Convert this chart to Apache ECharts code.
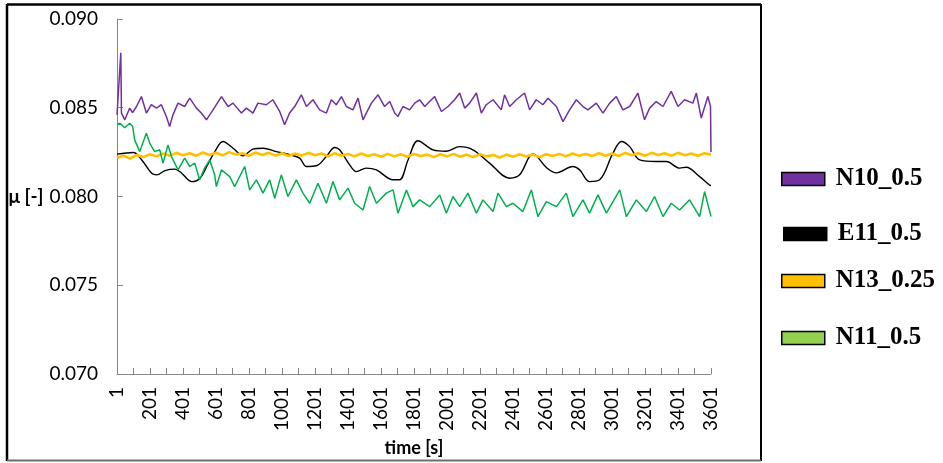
<!DOCTYPE html>
<html>
<head>
<meta charset="utf-8">
<script src="https://cdn.jsdelivr.net/npm/echarts@6/dist/echarts.min.js"></script>
<style>
  html, body { margin: 0; padding: 0; background: #fff; }
  #chart { width: 943px; height: 463px; }
</style>
</head>
<body>
<div id="chart"></div>
<script>
// Friction coefficient μ over a one-hour test, four specimens.
const seriesNames = ['N10_0.5', 'E11_0.5', 'N13_0.25', 'N11_0.5'];

// Axis tick positions and labels (time in s)
const xTickLabels = [1, 201, 401, 601, 801, 1001, 1201, 1401, 1601, 1801, 2001,
  2201, 2401, 2601, 2801, 3001, 3201, 3401, 3601];
const xTicks = [1, 101, 201, 301, 401, 501, 601, 701, 801, 901, 1001, 1101, 1201,
  1301, 1401, 1501, 1601, 1701, 1801, 1901, 2001, 2101, 2201, 2301, 2401, 2501,
  2601, 2701, 2801, 2901, 3001, 3101, 3201, 3301, 3401, 3501, 3601];

// N10_0.5
const n10Time = [1, 24, 28, 48, 78, 96, 119, 149, 179, 209,
  240, 270, 300, 320, 340, 371, 411, 442, 482, 512,
  543, 583, 634, 674, 704, 755, 785, 825, 855, 906,
  946, 987, 1017, 1047, 1078, 1118, 1149, 1189, 1229, 1270,
  1300, 1330, 1361, 1391, 1431, 1462, 1492, 1512, 1543, 1583,
  1623, 1654, 1684, 1704, 1734, 1775, 1805, 1835, 1866, 1896,
  1926, 1967, 2007, 2047, 2078, 2108, 2138, 2179, 2209, 2239,
  2280, 2330, 2350, 2381, 2421, 2471, 2502, 2542, 2582, 2613,
  2664, 2704, 2744, 2785, 2825, 2855, 2906, 2946, 2987, 3027,
  3067, 3108, 3158, 3198, 3229, 3269, 3310, 3360, 3401, 3441,
  3491, 3512, 3542, 3582, 3598, 3601];
const n10Mu = [0.0846, 0.0881, 0.0847, 0.08432, 0.08498, 0.08472, 0.08507, 0.08563, 0.08470, 0.08517,
  0.08498, 0.08517, 0.08451, 0.08394, 0.08460, 0.08526, 0.08507, 0.08554, 0.08498, 0.08470,
  0.08432, 0.08488, 0.08563, 0.08507, 0.08526, 0.08470, 0.08498, 0.08470, 0.08526, 0.08517,
  0.08545, 0.08479, 0.08404, 0.08470, 0.08507, 0.08573, 0.08507, 0.08545, 0.08488, 0.08470,
  0.08545, 0.08517, 0.08563, 0.08507, 0.08488, 0.08554, 0.08432, 0.08470, 0.08526, 0.08573,
  0.08507, 0.08535, 0.08470, 0.08451, 0.08507, 0.08488, 0.08526, 0.08545, 0.08507, 0.08535,
  0.08563, 0.08479, 0.08507, 0.08545, 0.08583, 0.08498, 0.08526, 0.08583, 0.08470, 0.08517,
  0.08545, 0.08488, 0.08573, 0.08507, 0.08545, 0.08583, 0.08488, 0.08545, 0.08517, 0.08554,
  0.08507, 0.08422, 0.08488, 0.08545, 0.08507, 0.08488, 0.08526, 0.08470, 0.08526, 0.08563,
  0.08488, 0.08507, 0.08583, 0.08432, 0.08498, 0.08535, 0.08507, 0.08592, 0.08507, 0.08545,
  0.08526, 0.08583, 0.08442, 0.08563, 0.08507, 0.0825];

// E11_0.5
const e11Time = [1, 100, 151, 211, 242, 292, 353, 393, 454, 504,
  555, 593, 643, 704, 765, 825, 886, 967, 1048, 1108,
  1149, 1209, 1270, 1320, 1350, 1411, 1452, 1512, 1573, 1674,
  1714, 1765, 1825, 1916, 1997, 2078, 2158, 2259, 2380, 2441,
  2522, 2606, 2664, 2764, 2805, 2865, 2926, 3007, 3058, 3108,
  3169, 3270, 3330, 3411, 3451, 3532, 3592, 3601];
const e11Mu = [0.08239, 0.08248, 0.08206, 0.08131, 0.08122, 0.08146, 0.08154, 0.08131, 0.08084, 0.08103,
  0.08188, 0.08252, 0.08310, 0.08272, 0.08229, 0.08267, 0.08272, 0.08253, 0.08235, 0.08216,
  0.08169, 0.08173, 0.08225, 0.08276, 0.08263, 0.08178, 0.08140, 0.08160, 0.08150, 0.08094,
  0.08094, 0.08206, 0.08314, 0.08263, 0.08255, 0.08281, 0.08263, 0.08188, 0.08103, 0.08122,
  0.08240, 0.08161, 0.08133, 0.08169, 0.08150, 0.08084, 0.08094, 0.08244, 0.08310, 0.08281,
  0.08206, 0.08197, 0.08197, 0.08160, 0.08165, 0.08112, 0.08065, 0.08062];

// N13_0.25, sampled every 40 s from t = 1
const n13Step = 40;
const n13Mu = [0.08218, 0.08230, 0.08214, 0.08234, 0.08222, 0.08238, 0.08226, 0.08242, 0.08230, 0.08246,
  0.08232, 0.08244, 0.08230, 0.08248, 0.08234, 0.08246, 0.08232, 0.08250, 0.08236, 0.08244,
  0.08230, 0.08248, 0.08234, 0.08246, 0.08230, 0.08244, 0.08228, 0.08242, 0.08230, 0.08246,
  0.08232, 0.08242, 0.08226, 0.08244, 0.08230, 0.08240, 0.08226, 0.08242, 0.08228, 0.08238,
  0.08224, 0.08240, 0.08226, 0.08238, 0.08224, 0.08240, 0.08228, 0.08236, 0.08222, 0.08238,
  0.08226, 0.08240, 0.08224, 0.08236, 0.08222, 0.08238, 0.08226, 0.08234, 0.08220, 0.08236,
  0.08224, 0.08238, 0.08226, 0.08236, 0.08222, 0.08238, 0.08228, 0.08240, 0.08226, 0.08242,
  0.08230, 0.08240, 0.08228, 0.08244, 0.08230, 0.08242, 0.08228, 0.08246, 0.08232, 0.08244,
  0.08230, 0.08246, 0.08234, 0.08244, 0.08230, 0.08246, 0.08232, 0.08242, 0.08230, 0.08244,
  0.08236];

// N11_0.5
const n11Time = [1, 19, 48, 78, 96, 108, 139, 179, 199, 229,
  260, 280, 310, 331, 371, 411, 442, 472, 502, 532,
  563, 593, 603, 634, 684, 714, 775, 805, 846, 886,
  926, 957, 997, 1037, 1088, 1128, 1169, 1219, 1270, 1310,
  1350, 1401, 1441, 1492, 1532, 1573, 1633, 1674, 1704, 1755,
  1795, 1835, 1896, 1957, 1997, 2037, 2078, 2128, 2179, 2219,
  2280, 2310, 2361, 2401, 2461, 2512, 2552, 2603, 2664, 2724,
  2764, 2825, 2865, 2916, 2967, 3048, 3088, 3149, 3209, 3259,
  3310, 3360, 3411, 3471, 3532, 3562, 3601];
const n11Mu = [0.08405, 0.08413, 0.08387, 0.08413, 0.08394, 0.08319, 0.08253, 0.08357, 0.08301, 0.08253,
  0.08263, 0.08188, 0.08291, 0.08225, 0.08150, 0.08216, 0.08169, 0.08188, 0.08094, 0.08160,
  0.08206, 0.08122, 0.08056, 0.08150, 0.08112, 0.08056, 0.08169, 0.08037, 0.08094, 0.08019,
  0.08094, 0.07990, 0.08122, 0.08000, 0.08094, 0.08019, 0.07962, 0.08075, 0.07962, 0.08084,
  0.07981, 0.08047, 0.07962, 0.07924, 0.08056, 0.07962, 0.08019, 0.08037, 0.07906, 0.08037,
  0.07943, 0.07981, 0.07943, 0.08009, 0.07906, 0.08000, 0.07943, 0.08019, 0.07906, 0.07981,
  0.07915, 0.08019, 0.07943, 0.07962, 0.07915, 0.08037, 0.07887, 0.07971, 0.07943, 0.08019,
  0.07887, 0.07981, 0.07906, 0.08009, 0.07906, 0.08037, 0.07887, 0.07981, 0.07915, 0.08000,
  0.07887, 0.07962, 0.07924, 0.07981, 0.07887, 0.08028, 0.07887];

const lineColors = ['#7030A0', '#000000', '#FFC000', '#00B050'];
const legendFill = ['#7030A0', '#000000', '#FFC000', '#92D050'];
const lineWidths = [1.5, 1.4, 2.6, 1.5];

function pairs(times, values) {
  const n = Math.min(times.length, values.length);
  const out = [];
  for (let i = 0; i < n; i++) out.push([times[i], values[i]]);
  return out;
}
const n13Time = n13Mu.map((_, i) => 1 + i * n13Step);

const seriesData = [
  pairs(n10Time, n10Mu),
  pairs(e11Time, e11Mu),
  pairs(n13Time, n13Mu),
  pairs(n11Time, n11Mu)
];

const axisGray = '#868686';
const sansFont = 'Lato, "Liberation Sans", sans-serif';
const legendTops = [165, 220, 267, 324];
const legendLefts = [781, 783, 781, 781];

const chart = echarts.init(document.getElementById('chart'), null, { renderer: 'canvas' });

chart.setOption({
  animation: false,
  backgroundColor: '#ffffff',
  grid: { left: 117, right: 232, top: 19, bottom: 89, containLabel: false },
  xAxis: {
    type: 'value',
    min: 1,
    max: 3601,
    axisLine: { show: true, onZero: false, lineStyle: { color: axisGray, width: 1 } },
    axisTick: { show: true, inside: true, length: 6, customValues: xTicks, lineStyle: { color: axisGray } },
    axisLabel: {
      customValues: xTickLabels, rotate: 90, margin: 13,
      fontFamily: sansFont, fontSize: 19, color: '#000',
      formatter: v => String(v)
    },
    splitLine: { show: false },
    name: 'time [s]',
    nameLocation: 'middle',
    nameGap: 62,
    nameTextStyle: { fontFamily: sansFont, fontWeight: 'bold', fontSize: 18, color: '#000' }
  },
  yAxis: {
    type: 'value',
    min: 0.070,
    max: 0.090,
    interval: 0.005,
    axisLine: { show: true, onZero: false, lineStyle: { color: axisGray, width: 1 } },
    axisTick: { show: true, inside: true, length: 6, lineStyle: { color: axisGray } },
    axisLabel: {
      margin: 19, fontFamily: sansFont, fontSize: 19, color: '#000',
      formatter: v => v.toFixed(3)
    },
    splitLine: { show: false },
    name: 'μ [-]',
    nameLocation: 'middle',
    nameRotate: 0,
    nameGap: 68,
    nameTextStyle: {
      fontFamily: sansFont, fontWeight: 'bold', fontSize: 19, color: '#000',
      align: 'right', verticalAlign: 'middle'
    }
  },
  legend: seriesNames.map((name, i) => ({
    data: [{ name: name, icon: 'rect', itemStyle: { color: legendFill[i], borderColor: '#000', borderWidth: 1.5 } }],
    orient: 'vertical',
    left: legendLefts[i],
    top: legendTops[i],
    padding: 0,
    itemWidth: 43,
    itemHeight: 13,
    selectedMode: false,
    textStyle: {
      fontFamily: '"Liberation Serif", "Times New Roman", serif',
      fontWeight: 'bold', fontSize: 25, color: '#000', lineHeight: 28,
      padding: [0, 0, 0, 6]
    }
  })),
  graphic: [
    { type: 'line', shape: { x1: 7, y1: 4.5, x2: 761, y2: 4.5 }, style: { stroke: '#000', lineWidth: 2.5 } },
    { type: 'line', shape: { x1: 7, y1: 4, x2: 7, y2: 461 }, style: { stroke: '#000', lineWidth: 2.5 } },
    { type: 'line', shape: { x1: 761, y1: 4, x2: 761, y2: 461 }, style: { stroke: '#000', lineWidth: 2 } },
    { type: 'line', shape: { x1: 7, y1: 460.5, x2: 761, y2: 460.5 }, style: { stroke: '#6e6e6e', lineWidth: 2 } }
  ],
  series: seriesNames.map((name, i) => ({
    name: name,
    type: 'line',
    data: seriesData[i],
    symbol: 'none',
    showSymbol: false,
    smooth: i === 1 ? 0.35 : false,
    color: lineColors[i],
    lineStyle: { color: lineColors[i], width: lineWidths[i] },
    emphasis: { disabled: true }
  }))
});
</script>
</body>
</html>
